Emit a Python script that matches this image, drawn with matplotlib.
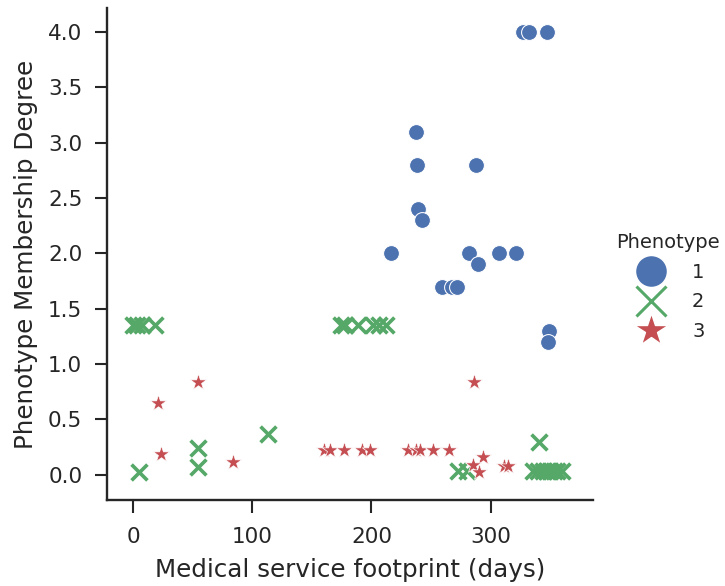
import matplotlib
matplotlib.use("Agg")
import matplotlib.pyplot as plt
from matplotlib.lines import Line2D
import seaborn as sns

sns.set_theme(style="ticks")
plt.rcParams["font.family"] = ["DejaVu Sans"]

# phenotype 1 (circles)
p1_days = [327, 332, 347, 237, 238, 288, 239, 242, 216, 282, 289, 307, 321, 259, 268, 272, 349, 348]
p1_deg = [4.0, 4.0, 4.0, 3.1, 2.8, 2.8, 2.4, 2.3, 2.0, 2.0, 1.9, 2.0, 2.0, 1.7, 1.7, 1.7, 1.3, 1.2]

# phenotype 2 (crosses)
p2_days = [0, 3, 7, 18, 174, 178, 189, 201, 206, 212,
           5, 54, 54, 113, 341, 273, 280,
           336, 340, 344, 347, 350, 353, 356, 360]
p2_deg = [1.35, 1.35, 1.35, 1.35, 1.35, 1.35, 1.35, 1.35, 1.35, 1.35,
          0.02, 0.24, 0.07, 0.37, 0.29, 0.03, 0.03,
          0.03, 0.03, 0.03, 0.03, 0.03, 0.03, 0.03, 0.03]

# phenotype 3 (stars)
p3_days = [54, 21, 23, 84, 160, 165, 177, 192, 199, 231, 237, 241, 252, 265,
           286, 294, 285, 290, 311, 315]
p3_deg = [0.84, 0.65, 0.19, 0.11, 0.22, 0.22, 0.22, 0.22, 0.22, 0.22, 0.22, 0.22, 0.22, 0.22,
          0.84, 0.16, 0.09, 0.02, 0.08, 0.08]

phenotypes = ["1", "2", "3"]
colors = ["#4C72B0", "#55A868", "#C44E52"]

fig = plt.figure(figsize=(7.25, 5.86), dpi=100)
ax = fig.add_axes([0.148, 0.147, 0.67, 0.839])

ax.scatter(p1_days, p1_deg, s=130, marker="o", color=colors[0], edgecolor="white", linewidth=0.75, zorder=3)
ax.scatter(p2_days, p2_deg, s=130, marker="x", color=colors[1], linewidth=2.6, zorder=3)
ax.scatter(p3_days, p3_deg, s=150, marker="*", color=colors[2], edgecolor="white", linewidth=0.5, zorder=3)

ax.set_xlim(-21.8, 386)
ax.set_ylim(-0.229, 4.217)
ax.set_xticks([0, 100, 200, 300])
ax.set_yticks([0, 0.5, 1.0, 1.5, 2.0, 2.5, 3.0, 3.5, 4.0])
ax.set_yticklabels(["0.0", "0.5", "1.0", "1.5", "2.0", "2.5", "3.0", "3.5", "4.0"])
ax.tick_params(labelsize=15.5, length=9, width=1.5, color="#262626", labelcolor="#262626")
ax.tick_params(axis="x", pad=10.5)
ax.tick_params(axis="y", pad=9)
for side in ["left", "bottom"]:
    ax.spines[side].set_linewidth(1.7)
    ax.spines[side].set_color("#262626")
ax.spines["top"].set_visible(False)
ax.spines["right"].set_visible(False)
ax.set_xlabel("Medical service footprint (days)", fontsize=17.7, color="#262626", labelpad=8)
ax.set_ylabel("Phenotype Membership Degree", fontsize=17.7, color="#262626", labelpad=7)

handles = [
    Line2D([], [], linestyle="", marker="o", markersize=23, color=colors[0], markeredgecolor="white"),
    Line2D([], [], linestyle="", marker="x", markersize=22, color=colors[1], markeredgewidth=2.2),
    Line2D([], [], linestyle="", marker="*", markersize=25, color=colors[2], markeredgecolor="white"),
]
leg = fig.legend(handles, phenotypes, title="Phenotype", loc="center left",
                 bbox_to_anchor=(0.826, 0.51), frameon=False, fontsize=14,
                 title_fontsize=14, labelspacing=0.55, handletextpad=1.1)
for t in leg.get_texts():
    t.set_color("#262626")
leg.get_title().set_color("#262626")

fig.savefig("out.png", dpi=100)
